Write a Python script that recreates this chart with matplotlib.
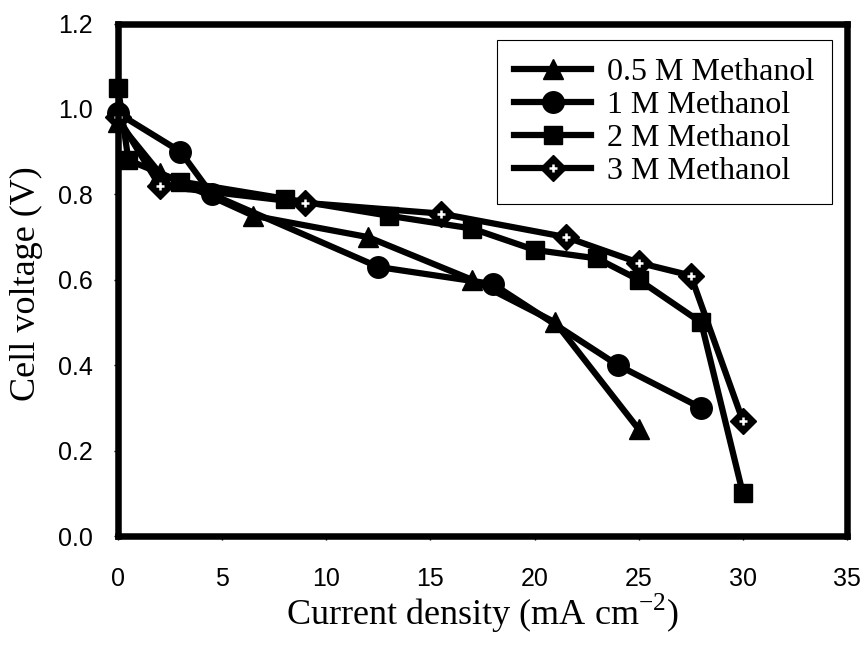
import numpy as np
import matplotlib
matplotlib.use("Agg")
import matplotlib.pyplot as plt
from matplotlib.legend_handler import HandlerTuple

# polarisation curves for each methanol concentration
x_05 = [0, 2, 6.5, 12, 17, 21, 25]
v_05 = [0.97, 0.85, 0.75, 0.70, 0.60, 0.50, 0.25]

x_1 = [0, 3, 4.5, 12.5, 18, 24, 28]
v_1 = [0.99, 0.90, 0.80, 0.63, 0.59, 0.40, 0.30]

x_2 = [0, 0.5, 3, 8, 13, 17, 20, 23, 25, 28, 30]
v_2 = [1.05, 0.88, 0.83, 0.79, 0.75, 0.72, 0.67, 0.65, 0.60, 0.50, 0.10]

x_3 = [0, 2, 9, 15.5, 21.5, 25, 27.5, 30]
v_3 = [0.98, 0.82, 0.78, 0.755, 0.70, 0.64, 0.61, 0.27]

labels = ["0.5 M Methanol", "1 M Methanol", "2 M Methanol", "3 M Methanol"]

serif = ["Liberation Serif", "DejaVu Serif"]
sans = ["Liberation Sans", "DejaVu Sans"]
plt.rcParams["font.family"] = serif
plt.rcParams["axes.unicode_minus"] = False

fig = plt.figure(figsize=(8.67, 6.54), dpi=100)
ax = fig.add_axes([0.1361, 0.1804, 0.8408, 0.7836])

lw = 4.5
kw = dict(color="black", lw=lw, clip_on=False)
l1, = ax.plot(x_05, v_05, marker="^", ms=15, **kw)
l2, = ax.plot(x_1, v_1, marker="o", ms=15.5, **kw)
l3, = ax.plot(x_2, v_2, marker="s", ms=13.5, **kw)
l4, = ax.plot(x_3, v_3, marker="D", ms=13.5, **kw)
# white cross inside the diamonds
p4, = ax.plot(x_3, v_3, ls="none", marker="+", ms=5.5, mew=1.8,
              color="white", clip_on=False)

ax.set_xlim(0, 35)
ax.set_ylim(0, 1.2)
ax.set_xticks(np.arange(0, 36, 5))
ax.set_yticks(np.arange(0, 1.21, 0.2))
ax.set_yticklabels([f"{t:.1f}" for t in np.arange(0, 1.21, 0.2)])

for s in ax.spines.values():
    s.set_linewidth(4.7)
ax.tick_params(direction="out", length=3, width=1, labelsize=18)
ax.tick_params(axis="y", pad=15)
ax.tick_params(axis="x", pad=19)
for t in ax.get_xticklabels() + ax.get_yticklabels():
    t.set_family(sans)

ax.set_xlabel("Current density (mA cm$^{\\mathregular{-2}}$)", fontsize=26,
              va="baseline")
ax.xaxis.set_label_coords(0.5, -0.1737)
ax.set_ylabel("Cell voltage (V)", fontsize=26, va="baseline")
ax.yaxis.set_label_coords(-0.1139, 0.4927)

leg = ax.legend([l1, l2, l3, (l4, p4)], labels,
                handler_map={tuple: HandlerTuple(ndivide=1)},
                loc="upper right", bbox_to_anchor=(0.979, 0.968),
                prop={"family": serif, "size": 23}, handlelength=2.4,
                labelspacing=0.115, handletextpad=0.5,
                borderpad=0.55, borderaxespad=0,
                fancybox=False, framealpha=1, edgecolor="black")
leg.get_frame().set_linewidth(0.8)

plt.savefig("out.png", dpi=100)
